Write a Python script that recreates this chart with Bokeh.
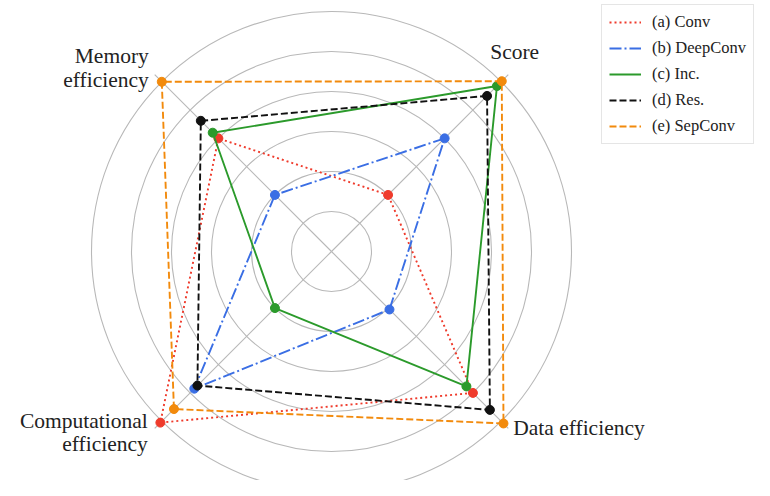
import numpy as np
from bokeh.plotting import figure
from bokeh.models import Legend, LegendItem, Range1d
from bokeh.core.properties import value
from bokeh.embed import file_html
from bokeh.resources import INLINE

# ---- data ----
axes_labels = ["Score", "Memory efficiency", "Computational efficiency", "Data efficiency"]
axes_angles_deg = [45, 135, 225, 315]
ring_levels = [1, 2, 3, 4, 5, 6]

series_names = ["(a) Conv", "(b) DeepConv", "(c) Inc.", "(d) Res.", "(e) SepConv"]
conv = [2.0, 4.0, 6.05, 5.0]
deepconv = [4.0, 2.0, 4.85, 2.05]
inc = [5.85, 4.2, 2.0, 4.77]
res = [5.5, 4.62, 4.74, 5.6]
sepconv = [6.02, 6.0, 5.57, 6.08]
series_values = [conv, deepconv, inc, res, sepconv]

colors = ["#ef3b2c", "#3a6ee4", "#2b9a2b", "#111111", "#f28a0c"]
dashes = ["2 3", "12 3 2 3", "solid", "7 3", "7 3"]

SERIF = "'Liberation Serif', 'DejaVu Serif', serif"

# ---- figure ----
W, H = 754, 480
cx_px, cy_px = 331, 251
unit = 40.0
p = figure(width=W, height=H, output_backend="svg", toolbar_location=None,
           x_axis_location=None, y_axis_location=None, min_border=0,
           x_range=Range1d(-cx_px / unit, (W - cx_px) / unit),
           y_range=Range1d(-(H - cy_px) / unit, cy_px / unit))
p.grid.visible = False
p.outline_line_color = None
p.background_fill_color = "white"

ang = np.deg2rad(axes_angles_deg)

# rings
p.circle(x=[0] * len(ring_levels), y=[0] * len(ring_levels), radius=ring_levels,
         fill_color=None, line_color="#b8b8b8", line_width=1.1)
# spokes
rmax = max(ring_levels) + 0.25
p.segment(x0=[0] * 4, y0=[0] * 4, x1=list(rmax * np.cos(ang)), y1=list(rmax * np.sin(ang)),
          line_color="#b8b8b8", line_width=1.1)

items = []
for name, vals, col, dash in zip(series_names, series_values, colors, dashes):
    r = np.array(vals + vals[:1])
    a = np.concatenate([ang, ang[:1]])
    xs = r * np.cos(a)
    ys = r * np.sin(a)
    ln = p.line(xs, ys, line_color=col, line_width=1.9, line_dash=dash)
    p.scatter(xs[:-1], ys[:-1], size=9, fill_color=col, line_color=col)
    items.append(LegendItem(label=name, renderers=[ln]))

# axis labels (lines, anchor at outer ring along each spoke, pixel offsets)
label_lines = [
    ("Score", 0, -11, -30, "left"),
    ("Memory", 1, -13, -26, "right"),
    ("efficiency", 1, -13, -2, "right"),
    ("Computational", 2, -14, 0, "right"),
    ("efficiency", 2, -14, 23, "right"),
    ("Data efficiency", 3, 12, 7, "left"),
]
for txt, ai, dx, dy, align in label_lines:
    R = max(ring_levels)
    p.text(x=[R * np.cos(ang[ai])], y=[R * np.sin(ang[ai])], text=[txt],
           x_offset=dx, y_offset=dy, text_align=align, text_baseline="middle",
           text_font=value(SERIF), text_font_size="21.5px", text_color="#222222")

legend = Legend(items=items, location=(W - 153, H - 144))
legend.label_text_font = SERIF
legend.label_text_font_size = "16.5px"
legend.label_text_color = "#222222"
legend.glyph_width = 32
legend.glyph_height = 20
legend.label_height = 20
legend.label_standoff = 11
legend.spacing = 6
legend.padding = 7
legend.margin = 0
legend.border_line_color = "#cccccc"
legend.border_line_width = 1
legend.background_fill_alpha = 0.9
p.add_layout(legend)

open("out.html", "w").write(file_html(p, INLINE))
